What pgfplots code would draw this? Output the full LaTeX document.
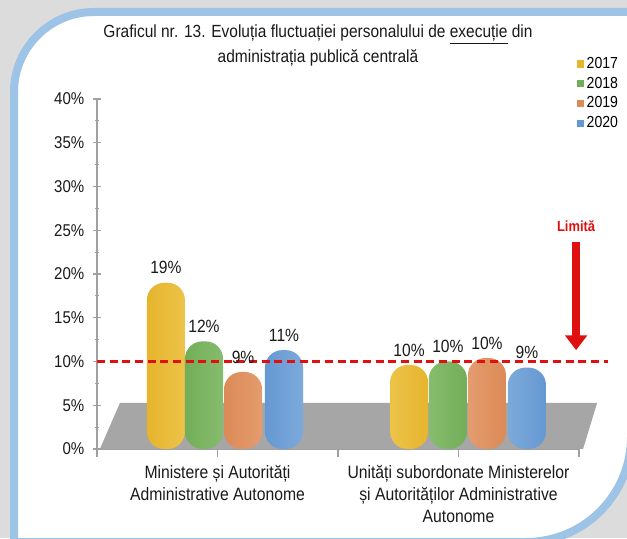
\documentclass[border=0pt]{standalone}
\usepackage{fontspec}
\setmainfont{Liberation Sans}[FakeStretch=0.88]
\usepackage{pgfplots}
\pgfplotsset{compat=1.18}
\usetikzlibrary{arrows.meta}
\definecolor{bggray}{HTML}{DCDCDC}
\definecolor{frameblue}{HTML}{9DC3E6}
\definecolor{axisgray}{HTML}{A0A0A0}
\definecolor{floorgray}{HTML}{A6A6A6}
\definecolor{limred}{HTML}{E01010}
\definecolor{yD}{HTML}{E6B52E}\definecolor{yL}{HTML}{FDE88F}
\definecolor{gD}{HTML}{72AE58}\definecolor{gL}{HTML}{BFE2AA}
\definecolor{oD}{HTML}{DC8A58}\definecolor{oL}{HTML}{FACBA9}
\definecolor{bD}{HTML}{6598D2}\definecolor{bL}{HTML}{BCD9F3}
\definecolor{txt}{HTML}{1A1A1A}
\pgfplotsset{/pgf/number format/assume math mode=true}
\begin{document}
\begin{tikzpicture}[x=0.75pt,y=0.75pt]
\path[use as bounding box] (0,0) rectangle (627,538);
\clip (0,0) rectangle (627,538);
\fill[bggray] (0,0) rectangle (627,538);
\path[fill=white, draw=frameblue, line width=6pt] (14,-4) -- (14,446) arc[start angle=180,end angle=90,radius=60pt] -- (631,526) -- (631,101) arc[start angle=0,end angle=-90,radius=78.75pt] -- cycle;
\node[align=center, text=txt, font=\fontsize{13.2}{18.75}\selectfont] at (318,492.5) {Graficul nr. 13. Evoluția fluctuației personalului de \underline{execuție} din\\administrația publică centrală};
\begin{axis}[
  at={(72.75pt,66.75pt)}, anchor=south west, scale only axis,
  width=361.5pt, height=262.5pt,
  xmin=0, xmax=2, ymin=0, ymax=40, clip=false,
  axis x line*=bottom, axis y line*=left,
  axis line style={draw=axisgray, line width=0.8pt},
  ytick={0,5,...,40}, minor ytick={2.5,7.5,...,37.5},
  yticklabel={\pgfmathprintnumber{\tick}\%},
  xtick={0,0.5,1,1.5,2},
  xticklabels={{},{Ministere și Autorități\\Administrative Autonome},{},{Unități subordonate Ministerelor\\și Autorităților Administrative\\Autonome},{}},
  xticklabel style={align=center, font=\fontsize{13.4}{16.5}\selectfont, text=txt, yshift=-2.5pt},
  yticklabel style={font=\fontsize{12.8}{13}\selectfont, text=txt, xshift=-3pt},
  xtick align=outside, ytick align=center,
  major tick length=6pt, minor tick length=3.5pt,
  tick style={draw=axisgray, line width=0.8pt},
  legend style={at={(axis description cs:0.996,1.128)}, anchor=north west, draw=none, fill=none,
    font=\fontsize{12}{13}\selectfont, row sep=1pt, inner sep=0pt,
    /tikz/every even column/.append style={column sep=4pt}},
  legend cell align=left,
  every node near coord/.append style={font=\fontsize{13.3}{14}\selectfont, text=txt, yshift=3pt},
  nodes near coords={\pgfmathprintnumber[fixed,precision=0]{\pgfplotspointmeta}\%},
]
\addlegendimage{legend image code/.code={\fill[yD] (0pt,-2.3pt) rectangle (4.6pt,2.3pt);}}
\addlegendentry{2017}
\addlegendimage{legend image code/.code={\fill[gD] (0pt,-2.3pt) rectangle (4.6pt,2.3pt);}}
\addlegendentry{2018}
\addlegendimage{legend image code/.code={\fill[oD] (0pt,-2.3pt) rectangle (4.6pt,2.3pt);}}
\addlegendentry{2019}
\addlegendimage{legend image code/.code={\fill[bD] (0pt,-2.3pt) rectangle (4.6pt,2.3pt);}}
\addlegendentry{2020}
% floor
\addplot[forget plot, fill=floorgray, draw=none, nodes near coords=] coordinates {(0.012,0) (0.095,5.26) (2.075,5.26) (2.017,0)} -- cycle;
% bars (x = bar centre)
\addplot[forget plot, ybar, bar width=0.158, bar shift=0, draw=none, left color=yD, right color=yD, middle color=yL, rounded corners=13pt] coordinates {(0.286,19.0) (1.295,9.6)};
\addplot[forget plot, ybar, bar width=0.158, bar shift=0, draw=none, left color=gD, right color=gD, middle color=gL, rounded corners=13pt] coordinates {(0.444,12.3) (1.456,10.0)};
\addplot[forget plot, ybar, bar width=0.158, bar shift=0, draw=none, left color=oD, right color=oD, middle color=oL, rounded corners=13pt] coordinates {(0.606,8.8) (1.618,10.4)};
\addplot[forget plot, ybar, bar width=0.158, bar shift=0, draw=none, left color=bD, right color=bD, middle color=bL, rounded corners=13pt] coordinates {(0.776,11.3) (1.784,9.3)};
% limit line
\addplot[forget plot, draw=limred, line width=2.2pt, dash pattern=on 6pt off 3.5pt, nodes near coords=] coordinates {(0,10) (2.12,10)};
% arrow
\addplot[forget plot, draw=limred, line width=6pt, -{Triangle[width=16pt,length=11pt]}, nodes near coords=] coordinates {(1.988,23.7) (1.988,11.3)};
\node[text=limred, font=\bfseries\fontsize{11}{12}\selectfont] at (axis cs:1.988,25.5) {Limită};
\end{axis}
\end{tikzpicture}
\end{document}
